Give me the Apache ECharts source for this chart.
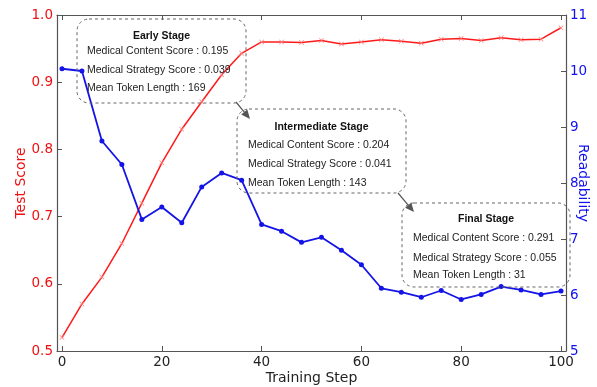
<!DOCTYPE html>
<html>
<head>
<meta charset="utf-8">
<script src="https://cdn.jsdelivr.net/npm/echarts@6/dist/echarts.min.js"></script>
<style>
html,body{margin:0;padding:0;background:#fff;}
#c{width:597px;height:387px;}
</style>
</head>
<body>
<div id="c"></div>
<script>
var steps = [0,4,8,12,16,20,24,28,32,36,40,44,48,52,56,60,64,68,72,76,80,84,88,92,96,100];
var testScore = [0.52,0.57,0.61,0.66,0.72,0.78,0.83,0.871,0.911,0.943,0.960,0.960,0.959,0.962,0.957,0.960,0.963,0.961,0.958,0.964,0.965,0.962,0.966,0.963,0.964,0.981];
var readability = [10.04,10.0,8.75,8.33,7.35,7.57,7.29,7.93,8.18,8.05,7.26,7.14,6.94,7.03,6.80,6.54,6.12,6.05,5.96,6.08,5.92,6.01,6.15,6.09,6.01,6.07];
var xTicks = [0,20,40,60,80,100];
var stageTitles = ['Early Stage','Intermediate Stage','Final Stage'];
var contentScores = ['0.195','0.204','0.291'];
var strategyScores = ['0.039','0.041','0.055'];
var tokenLengths = ['169','143','31'];

var chart = echarts.init(document.getElementById('c'), null, {renderer:'canvas'});
var axisColor = '#555';
var axisFont = 'DejaVu Sans';

// annotation box layout (pixel)
var boxes = [
  {x:77, y:19, w:169, h:84, tx:87, ty:[36,51,70,88]},
  {x:237, y:109, w:169, h:84, tx:248, ty:[127,145,164,183]},
  {x:402, y:203, w:168, h:84, tx:413, ty:[219,238,258,275]}
];
var graphics = [];
boxes.forEach(function(b, i){
  graphics.push({type:'rect', shape:{x:b.x, y:b.y, width:b.w, height:b.h, r:12},
    style:{fill:null, stroke:'#666', lineWidth:1, lineDash:[3,3]}, z:10});
  graphics.push({type:'text', x:b.x + b.w/2, y:b.ty[0], style:{text:stageTitles[i], fontFamily:'Liberation Sans', fontWeight:'bold', fontSize:10.5, fill:'#111', align:'center', verticalAlign:'middle'}, z:11});
  var lines = ['Medical Content Score : ' + contentScores[i], 'Medical Strategy Score : ' + strategyScores[i], 'Mean Token Length : ' + tokenLengths[i]];
  lines.forEach(function(t, j){
    graphics.push({type:'text', x:b.tx, y:b.ty[j+1], style:{text:t, fontFamily:'Liberation Sans', fontSize:10.5, fill:'#222', align:'left', verticalAlign:'middle'}, z:11});
  });
});
function arrow(x1,y1,x2,y2){
  var dx=x2-x1, dy=y2-y1, L=Math.sqrt(dx*dx+dy*dy), ux=dx/L, uy=dy/L;
  var hl=9, hw=4;
  var bx=x2-ux*hl, by=y2-uy*hl;
  graphics.push({type:'line', shape:{x1:x1,y1:y1,x2:bx,y2:by}, style:{stroke:'#555', lineWidth:1.2}, z:12});
  graphics.push({type:'polygon', shape:{points:[[x2,y2],[bx-uy*hw,by+ux*hw],[bx+uy*hw,by-ux*hw]]}, style:{fill:'#555'}, z:12});
}
arrow(236,102,250,119);
arrow(398,193,414,212);

var redData = steps.map(function(s,i){return [s, testScore[i]];});
var blueData = steps.map(function(s,i){return [s, readability[i]];});

chart.setOption({
  animation:false,
  backgroundColor:'#fff',
  grid:{left:57, right:31, top:15, bottom:36, show:false, containLabel:false, outerBoundsMode:'none'},
  xAxis:[{
    type:'value', min:-1, max:101, position:'bottom',
    name:'Training Step', nameLocation:'middle', nameGap:20, nameMoveOverlap:false,
    nameTextStyle:{fontFamily:axisFont, fontSize:14, color:'#222'},
    axisLine:{show:true, onZero:false, lineStyle:{color:axisColor, width:1.2}},
    axisTick:{show:true, inside:true, length:5, customValues:xTicks, lineStyle:{color:axisColor}},
    axisLabel:{customValues:xTicks, fontFamily:axisFont, fontSize:13.5, color:'#222', margin:4},
    splitLine:{show:false}
  },{
    type:'value', min:-1, max:101, position:'top',
    axisLine:{show:true, onZero:false, lineStyle:{color:axisColor, width:1.2}},
    axisTick:{show:true, inside:true, length:5, customValues:xTicks, lineStyle:{color:axisColor}},
    axisLabel:{show:false},
    splitLine:{show:false}
  }],
  yAxis:[{
    type:'value', min:0.5, max:1.0, interval:0.1, position:'left',
    name:'Test Score', nameLocation:'middle', nameGap:29, nameRotate:90, nameMoveOverlap:false,
    nameTextStyle:{fontFamily:axisFont, fontSize:14, color:'#ee1111'},
    axisLine:{show:true, onZero:false, lineStyle:{color:axisColor, width:1.2}},
    axisTick:{show:true, inside:true, length:5, lineStyle:{color:axisColor}},
    axisLabel:{fontFamily:axisFont, fontSize:13.5, color:'#ee1111', margin:4, formatter:function(v){return v.toFixed(1);}},
    splitLine:{show:false}
  },{
    type:'value', min:5, max:11, interval:1, position:'right',
    name:'Readability', nameLocation:'middle', nameGap:10, nameRotate:-90, nameMoveOverlap:false,
    nameTextStyle:{fontFamily:axisFont, fontSize:14, color:'#1111ee'},
    axisLine:{show:true, onZero:false, lineStyle:{color:axisColor, width:1.2}},
    axisTick:{show:true, inside:true, length:5, lineStyle:{color:axisColor}},
    axisLabel:{fontFamily:axisFont, fontSize:13.5, color:'#1111ee', margin:4},
    splitLine:{show:false}
  }],
  series:[{
    type:'line', name:'Test Score', xAxisIndex:0, yAxisIndex:0, data:redData,
    lineStyle:{color:'#ff1a1a', width:1.5},
    symbol:'path://M0,1L1,0L5,4L9,0L10,1L6,5L10,9L9,10L5,6L1,10L0,9L4,5Z', symbolSize:5,
    itemStyle:{color:'#ff8080'}, z:3
  },{
    type:'line', name:'Readability', xAxisIndex:0, yAxisIndex:1, data:blueData,
    lineStyle:{color:'#1414e6', width:1.8},
    symbol:'circle', symbolSize:5,
    itemStyle:{color:'#1414e6'}, z:4
  }],
  graphic:graphics
});
</script>
</body>
</html>
